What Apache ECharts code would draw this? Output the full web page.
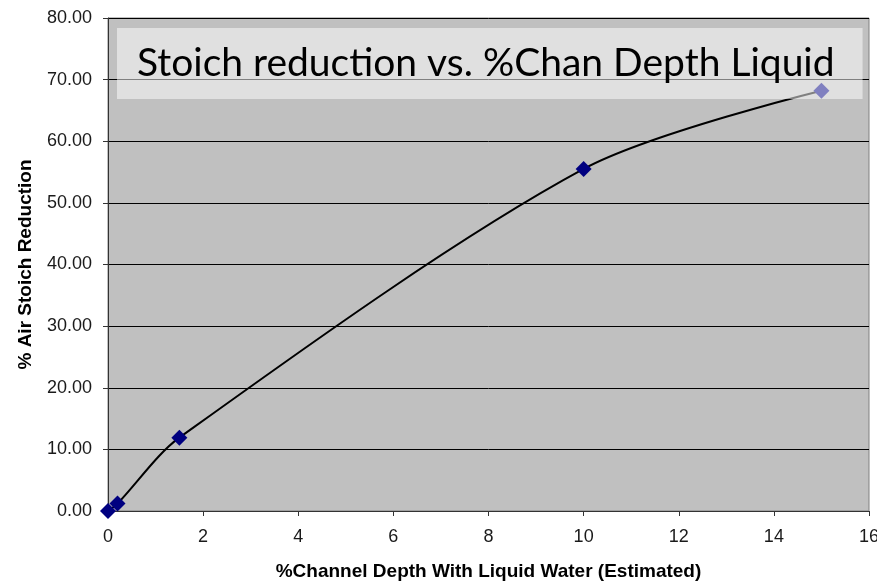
<!DOCTYPE html>
<html>
<head>
<meta charset="utf-8">
<script src="https://cdn.jsdelivr.net/npm/echarts@6/dist/echarts.min.js"></script>
<style>
  html, body { margin: 0; padding: 0; background: #ffffff; }
  #chart { width: 877px; height: 584px; }
</style>
</head>
<body>
<div id="chart"></div>
<script>
// Channel depth with liquid water (%) vs. air stoich reduction (%)
const depthPct = [0, 0.2, 1.5, 10, 15];
const stoichReduction = [0, 1.2, 11.9, 55.5, 68.2];
const xTicks = [0, 2, 4, 6, 8, 10, 12, 14, 16];
const yTicks = [0, 10, 20, 30, 40, 50, 60, 70, 80];

const chartTitle = 'Stoich reduction vs. %Chan Depth Liquid';
const xName = '%Channel Depth With Liquid Water (Estimated)';
const yName = '% Air Stoich Reduction';

const points = depthPct.map((x, i) => [x, stoichReduction[i]]);

const chart = echarts.init(document.getElementById('chart'), null, { renderer: 'canvas' });

const labelFont = { fontFamily: 'Liberation Sans, Arial, sans-serif', fontSize: 18, color: '#1a1a1a' };
const nameFont = { fontFamily: 'Liberation Sans, Arial, sans-serif', fontSize: 19, fontWeight: 'bold', color: '#000' };

chart.setOption({
  animation: false,
  backgroundColor: '#ffffff',
  title: {
    text: chartTitle,
    left: 117,
    top: 28,
    padding: [12, 28, 12, 20],
    backgroundColor: 'rgba(255,255,255,0.5)',
    z: 10,
    textStyle: {
      fontFamily: 'Lato, Noto Sans, sans-serif',
      fontWeight: 'normal',
      fontSize: 39,
      lineHeight: 47,
      color: '#000'
    }
  },
  grid: {
    left: 108,
    right: 8,
    top: 18,
    bottom: 73,
    outerBoundsMode: 'none',
    containLabel: false,
    show: true,
    backgroundColor: '#c0c0c0',
    borderColor: '#808080',
    borderWidth: 1
  },
  xAxis: {
    type: 'value',
    min: xTicks[0],
    max: xTicks[xTicks.length - 1],
    interval: 2,
    name: xName,
    nameLocation: 'middle',
    nameGap: 51,
    nameTextStyle: nameFont,
    axisLine: { show: true, lineStyle: { color: '#333', width: 1 } },
    axisTick: { show: true, inside: false, length: 5, lineStyle: { color: '#333' } },
    axisLabel: Object.assign({ margin: 17 }, labelFont),
    splitLine: { show: false }
  },
  yAxis: {
    type: 'value',
    min: yTicks[0],
    max: yTicks[yTicks.length - 1],
    interval: 10,
    name: yName,
    nameLocation: 'middle',
    nameGap: 73,
    nameRotate: 90,
    nameTextStyle: nameFont,
    axisLine: { show: true, lineStyle: { color: '#333', width: 1 } },
    axisTick: { show: true, inside: false, length: 5, lineStyle: { color: '#333' } },
    axisLabel: Object.assign({ margin: 16, formatter: v => v.toFixed(2) }, labelFont),
    splitLine: { show: true, lineStyle: { color: '#000', width: 1 } }
  },
  series: [{
    type: 'line',
    data: points,
    smooth: 0.3,
    symbol: 'diamond',
    symbolSize: 16,
    showSymbol: true,
    lineStyle: { color: '#000', width: 2 },
    itemStyle: { color: '#000080', borderWidth: 0 },
    z: 3
  }]
});
</script>
</body>
</html>
